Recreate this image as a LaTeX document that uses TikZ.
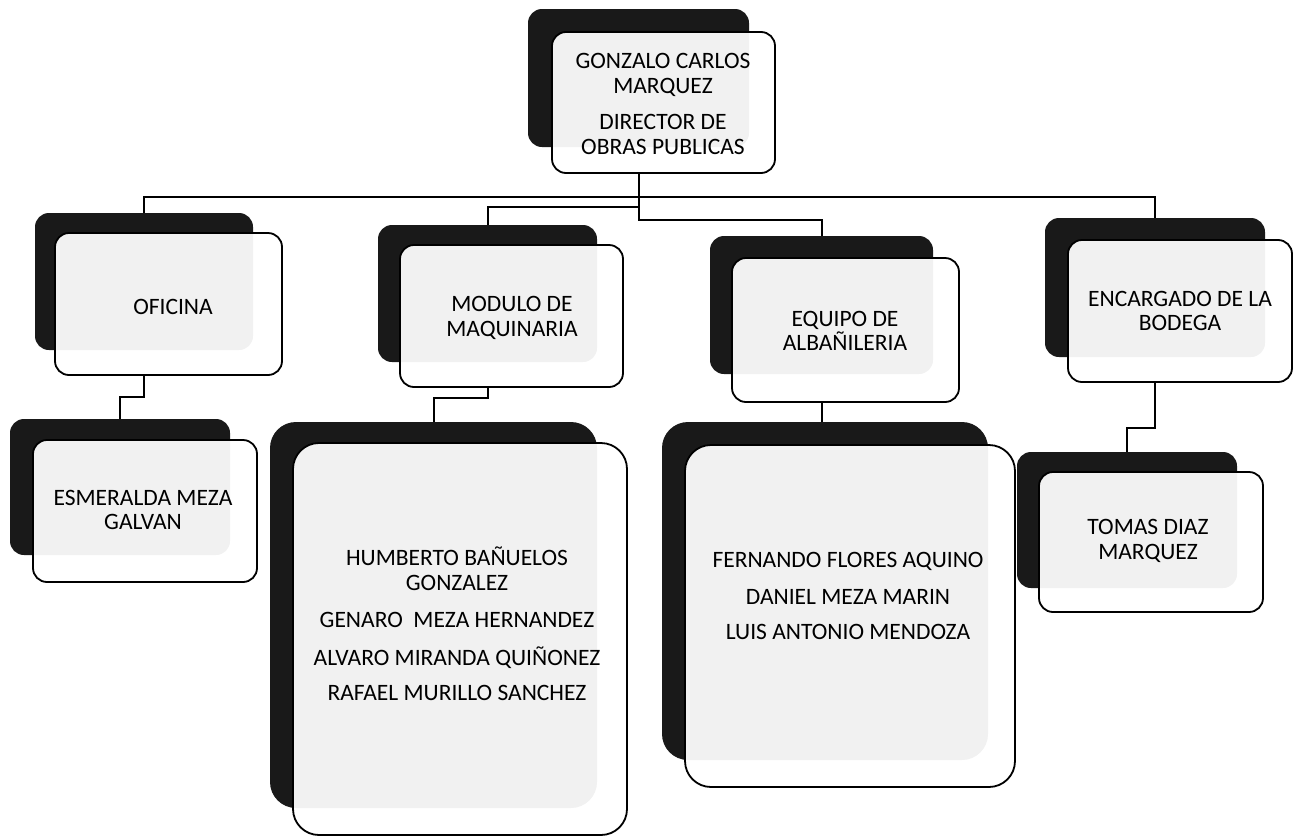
\documentclass[tikz,border=0pt]{standalone}
\usepackage{fontspec}
\setmainfont{Carlito}
\begin{document}
\begin{tikzpicture}[x=1pt,y=-1pt,
  back/.style={rectangle, rounded corners=#1, fill=black!90, inner sep=0pt, outer sep=0pt},
  back/.default=14pt,
  front/.style={rectangle, rounded corners=#1, draw=black, line width=1.8pt, fill=white, fill opacity=0.94, inner sep=0pt, outer sep=0pt},
  front/.default=14pt,
  txt/.style={font=\fontsize{23.5}{24.5}\selectfont, align=center, inner sep=0pt, text=black},
  conn/.style={draw=black, line width=2pt}]
\useasboundingbox (0,0) rectangle (1297,838);

% boxes (back shadow, front card)
\node[back, minimum width=221pt, minimum height=138pt] (dirB) at (638.5,78) {};
\node[front, minimum width=223pt, minimum height=141pt] (dirF) at (663.5,102.5) {};
\node[back, minimum width=218pt, minimum height=137pt] (ofB) at (144,281.5) {};
\node[front, minimum width=227pt, minimum height=142pt] (ofF) at (168.5,304) {};
\node[back, minimum width=220pt, minimum height=136pt] (esB) at (120,487) {};
\node[front, minimum width=224pt, minimum height=142pt] (esF) at (145,511) {};
\node[back, minimum width=219pt, minimum height=137pt] (modB) at (487.5,293.5) {};
\node[front, minimum width=223pt, minimum height=142pt] (modF) at (511.5,316) {};
\node[back=26pt, minimum width=327pt, minimum height=386pt] (humB) at (433.5,615) {};
\node[front=26pt, minimum width=334pt, minimum height=392pt] (humF) at (460,639) {};
\node[back, minimum width=223pt, minimum height=138pt] (eqB) at (821.5,305) {};
\node[front, minimum width=227pt, minimum height=144pt] (eqF) at (845.5,330) {};
\node[back=26pt, minimum width=326pt, minimum height=338pt] (ferB) at (825,591) {};
\node[front=26pt, minimum width=330pt, minimum height=342pt] (ferF) at (850,616) {};
\node[back, minimum width=220pt, minimum height=139pt] (bodB) at (1155,287.5) {};
\node[front, minimum width=224pt, minimum height=142pt] (bodF) at (1180,311) {};
\node[back, minimum width=220pt, minimum height=136pt] (tomB) at (1127,520) {};
\node[front, minimum width=224pt, minimum height=140pt] (tomF) at (1151,542) {};

% texts
\node[txt] (dirT) at (663,104) {GONZALO CARLOS\\MARQUEZ\\[12pt]DIRECTOR DE\\OBRAS PUBLICAS};
\node[txt] (ofT) at (173,307) {OFICINA};
\node[txt] (esT) at (143,510) {ESMERALDA MEZA\\GALVAN};
\node[txt] (modT) at (512,318) {MODULO DE\\MAQUINARIA};
\node[txt] (humT) at (457,624) {HUMBERTO BAÑUELOS\\GONZALEZ\\[13pt]GENARO\ \ MEZA HERNANDEZ\\[13pt]ALVARO MIRANDA QUIÑONEZ\\[11pt]RAFAEL MURILLO SANCHEZ};
\node[txt] (eqT) at (845,331) {EQUIPO DE\\ALBAÑILERIA};
\node[txt] (ferT) at (848,596) {FERNANDO FLORES AQUINO\\[12pt]DANIEL MEZA MARIN\\[11pt]LUIS ANTONIO MENDOZA};
\node[txt] (bodT) at (1180,311) {ENCARGADO DE LA\\BODEGA};
\node[txt] (tomT) at (1148,541) {TOMAS DIAZ\\MARQUEZ};

% connectors
\coordinate (top) at (dirB.center |- dirF.south);
\draw[conn] (ofB.north) -- ++(0,-16) -| (bodB.north);
\draw[conn] (modB.north) -- ++(0,-18) -| (top);
\draw[conn] (eqB.north) -- ++(0,-16) -| (top);
\draw[conn] (ofB.center |- ofF.south) -- ++(0,22) -| (esB.north);
\draw[conn] (modB.center |- modF.south) -- ++(0,11) -| (humB.north);
\draw[conn] (eqB.center |- eqF.south) -- (eqB.center |- ferB.north);
\draw[conn] (bodB.center |- bodF.south) -- ++(0,46) -| (tomB.north);
\end{tikzpicture}
\end{document}
